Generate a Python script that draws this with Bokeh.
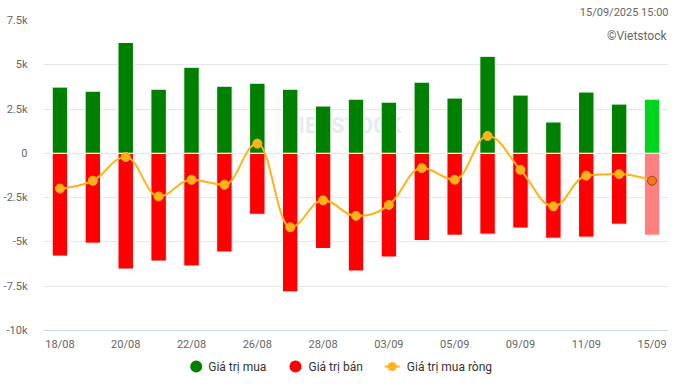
import numpy as np
from bokeh.plotting import figure
from bokeh.layouts import column
from bokeh.core.properties import value
from bokeh.models import (Range1d, FixedTicker, Label, ColumnDataSource, Title)
from bokeh.embed import file_html
from bokeh.resources import INLINE

# ---------------- data ----------------
dates = ["18/08", "19/08", "20/08", "21/08", "22/08", "25/08", "26/08", "27/08",
         "28/08", "29/08", "03/09", "04/09", "05/09", "08/09", "09/09", "10/09",
         "11/09", "12/09", "15/09"]
buy = [3740, 3510, 6260, 3620, 4860, 3790, 3960, 3620, 2670, 3060, 2890, 4020,
       3120, 5480, 3290, 1770, 3460, 2780, 3060]
sell = [-5800, -5070, -6530, -6080, -6360, -5570, -3440, -7820, -5370, -6640,
        -5850, -4920, -4620, -4560, -4220, -4790, -4730, -4000, -4620]
net = [-1990, -1545, -200, -2430, -1490, -1770, 550, -4170, -2650, -3530,
       -2910, -830, -1490, 980, -930, -2990, -1260, -1170, -1545]
y_ticks = [-10000, -7500, -5000, -2500, 0, 2500, 5000, 7500]
y_tick_labels = ["-10k", "-7.5k", "-5k", "-2.5k", "0", "2.5k", "5k", "7.5k"]
x_tick_step = 2
timestamp = "15/09/2025 15:00"
credit = "©Vietstock"
series_names = ["Giá trị mua", "Giá trị bán", "Giá trị mua ròng"]

FONT = "Roboto"
W = 668
n = len(dates)
xs = list(range(n))

# ---------------- main figure ----------------
p = figure(width=W, height=353, output_backend="svg", toolbar_location=None,
           x_range=Range1d(-0.5, n - 0.5), y_range=Range1d(y_ticks[0], y_ticks[-1]),
           min_border_top=20, min_border_right=0, min_border_left=0,
           min_border_bottom=21)
p.outline_line_color = None
p.background_fill_color = "white"
p.border_fill_color = "white"

# timestamp as a right-aligned title
p.title = Title(text=timestamp, align="right", text_font=FONT,
                text_font_size="11px", text_color="#666666",
                text_font_style="normal", standoff=3, offset=0)

# axes
p.yaxis.ticker = FixedTicker(ticks=y_ticks)
p.yaxis.major_label_overrides = {t: l for t, l in zip(y_ticks, y_tick_labels)}
p.yaxis.axis_line_color = None
p.yaxis.major_tick_line_color = None
p.yaxis.minor_tick_line_color = None
p.yaxis.major_label_standoff = 10
p.yaxis.major_label_text_font = FONT
p.yaxis.major_label_text_font_size = "11px"
p.yaxis.major_label_text_color = "#666666"

x_ticks = xs[::x_tick_step]
p.xaxis.ticker = FixedTicker(ticks=x_ticks)
p.xaxis.major_label_overrides = {t: dates[t] for t in x_ticks}
p.xaxis.axis_line_color = "#ccd6eb"
p.xaxis.major_tick_line_color = None
p.xaxis.minor_tick_line_color = None
p.xaxis.major_tick_out = 0
p.xaxis.major_label_standoff = 7
p.xaxis.major_label_text_font = FONT
p.xaxis.major_label_text_font_size = "11px"
p.xaxis.major_label_text_color = "#666666"

p.xgrid.grid_line_color = None
p.ygrid.grid_line_color = "#e6e6e6"

# faint watermark behind the bars
wm = Label(x=8.6, y=1600, text="VIETSTOCK", text_font=FONT, text_font_size="22px",
           text_color="#dce6f0", text_alpha=0.8, text_align="center",
           text_baseline="middle", text_font_style="bold", level="underlay")
p.add_layout(wm, "center")

# bars
GREEN, RED = "#008000", "#ff0000"
buy_colors = [GREEN] * (n - 1) + ["#00d420"]
sell_colors = [RED] * (n - 1) + ["#ff8080"]
src = ColumnDataSource(dict(x=xs, buy=buy, sell=sell, bc=buy_colors, sc=sell_colors))
p.vbar(x="x", top="buy", bottom=0, width=0.47, fill_color="bc",
       line_color="white", line_width=1, source=src)
p.vbar(x="x", top=0, bottom="sell", width=0.47, fill_color="sc",
       line_color="white", line_width=1, source=src)


# spline (Highcharts-like smoothing of the net series)
def spline_controls(px_list, py_list, smoothing=1.5):
    m = len(px_list)
    left = [(px_list[i], py_list[i]) for i in range(m)]
    right = [(px_list[i], py_list[i]) for i in range(m)]
    d = smoothing + 1
    for i in range(1, m - 1):
        px, py = px_list[i], py_list[i]
        lx, ly = px_list[i - 1], py_list[i - 1]
        nx, ny = px_list[i + 1], py_list[i + 1]
        lcx = (smoothing * px + lx) / d
        lcy = (smoothing * py + ly) / d
        rcx = (smoothing * px + nx) / d
        rcy = (smoothing * py + ny) / d
        corr = 0
        if rcx != lcx:
            corr = (rcy - lcy) * (rcx - px) / (rcx - lcx) + py - rcy
        lcy += corr
        rcy += corr
        if lcy > ly and lcy > py:
            lcy = max(ly, py); rcy = 2 * py - lcy
        elif lcy < ly and lcy < py:
            lcy = min(ly, py); rcy = 2 * py - lcy
        if rcy > ny and rcy > py:
            rcy = max(ny, py); lcy = 2 * py - rcy
        elif rcy < ny and rcy < py:
            rcy = min(ny, py); lcy = 2 * py - rcy
        left[i] = (lcx, lcy)
        right[i] = (rcx, rcy)
    return left, right


left, right = spline_controls(xs, net)
bz = dict(x0=xs[:-1], y0=net[:-1], x1=xs[1:], y1=net[1:],
          cx0=[right[i][0] for i in range(n - 1)], cy0=[right[i][1] for i in range(n - 1)],
          cx1=[left[i + 1][0] for i in range(n - 1)], cy1=[left[i + 1][1] for i in range(n - 1)])
LINE_C = "#ffb319"
p.bezier(x0="x0", y0="y0", x1="x1", y1="y1", cx0="cx0", cy0="cy0", cx1="cx1",
         cy1="cy1", source=ColumnDataSource(bz), line_color=LINE_C, line_width=2)

pt_fill = [LINE_C] * (n - 1) + ["#f07a18"]
pt_line = [LINE_C] * (n - 1) + ["#9a4c12"]
p.scatter(x="x", y="net", size=9, fill_color="fc", line_color="lc", line_width=1,
          source=ColumnDataSource(dict(x=xs, net=net, fc=pt_fill, lc=pt_line)))

# credit text
p.add_layout(Label(x=n - 0.56, y=6650, text=credit, text_font=FONT,
                   text_font_size="12px", text_color="#666666",
                   text_align="right", text_baseline="middle"), "center")

# ---------------- legend strip (separate small figure, pixel coordinates) ----------------
# the column layout aligns this strip's frame with the main frame (starts ~44.7px in)
LH = 21
FRAME_LEFT = 44.7
lf = figure(width=W, height=LH, output_backend="svg", toolbar_location=None,
            x_range=Range1d(FRAME_LEFT, W), y_range=Range1d(0, LH),
            min_border=0, x_axis_type=None, y_axis_type=None)
lf.outline_line_color = None
lf.xgrid.grid_line_color = None
lf.ygrid.grid_line_color = None
lf.background_fill_color = "white"
lf.border_fill_color = "white"

yc = 8
lf.scatter(x=[197, 296], y=[yc, yc], size=12, fill_color=[GREEN, RED], line_color=None)
lf.line(x=[385, 400], y=[yc, yc], line_color=LINE_C, line_width=2)
lf.scatter(x=[392.5], y=[yc], size=8, fill_color=LINE_C, line_color=LINE_C)
lf.text(x=[209, 309, 407], y=[yc] * 3, text=series_names, text_font=value(FONT),
        text_font_size="12px", text_color="#333333", text_baseline="middle",
        text_align="left")

layout = column(p, lf, spacing=0)
open("out.html", "w").write(file_html(layout, INLINE))
